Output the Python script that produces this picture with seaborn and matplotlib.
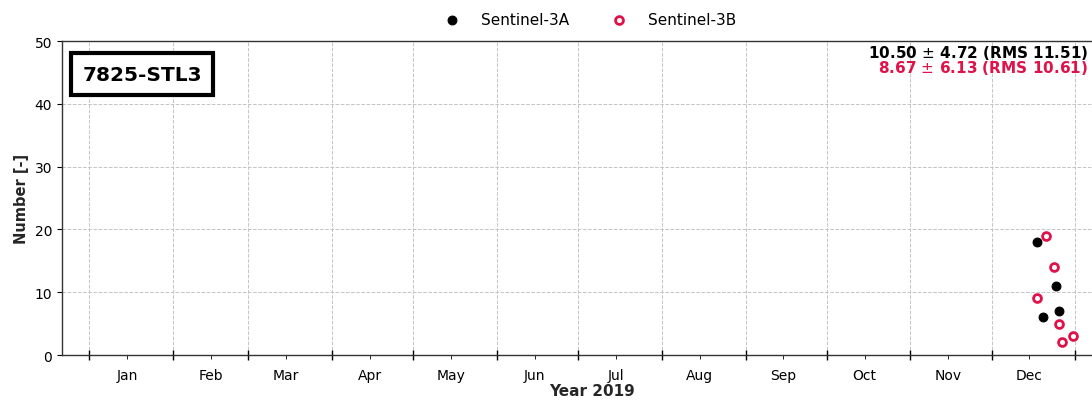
import seaborn as sns
import pandas as pd
import numpy as np
import matplotlib.pyplot as plt
import matplotlib.dates as mdates

# datos
fechas_3a = ["2019-12-18", "2019-12-20", "2019-12-25", "2019-12-26"]
valores_3a = [18, 6, 11, 7]
fechas_3b = ["2019-12-18", "2019-12-21", "2019-12-24", "2019-12-26", "2019-12-27", "2019-12-31"]
valores_3b = [9, 19, 14, 5, 2, 3]
meses = ["Jan", "Feb", "Mar", "Apr", "May", "Jun", "Jul", "Aug", "Sep", "Oct", "Nov", "Dec"]

s3a = pd.DataFrame({"fecha": pd.to_datetime(fechas_3a), "n": valores_3a})
s3b = pd.DataFrame({"fecha": pd.to_datetime(fechas_3b), "n": valores_3b})

rojo = "#e0124a"

sns.set_style("ticks")
plt.rcParams['font.family'] = ['DejaVu Sans']
plt.rcParams['text.color'] = 'black'
plt.rcParams['xtick.color'] = 'black'
plt.rcParams['ytick.color'] = 'black'

fig = plt.figure(figsize=(10.92, 4.02), dpi=100)
ax = fig.add_axes([0.0568, 0.1144, 0.97, 0.781])

sns.scatterplot(data=s3a, x="fecha", y="n", ax=ax, color="black", s=40,
                edgecolor="black", linewidth=0.8, label="Sentinel-3A", zorder=3)
sns.scatterplot(data=s3b, x="fecha", y="n", ax=ax, facecolor="white", s=32,
                edgecolor=rojo, linewidth=2, label="Sentinel-3B", zorder=3)

ax.set_xlim(pd.Timestamp("2018-12-22"), pd.Timestamp("2020-01-18"))
ax.set_ylim(0, 50)
ax.set_yticks([0, 10, 20, 30, 40, 50])

ax.xaxis.set_major_locator(mdates.MonthLocator())
ax.xaxis.set_major_formatter(plt.NullFormatter())
ax.set_xticks(pd.date_range("2019-01-01", periods=12, freq="MS") + pd.Timedelta(days=14), minor=True)
ax.set_xticklabels(meses, minor=True)
ax.tick_params(axis="x", which="major", length=7, direction="inout", width=1)
ax.tick_params(axis="x", which="minor", length=3, labelsize=10, pad=6)
ax.tick_params(axis="y", labelsize=10)

ax.grid(True, which="major", linestyle="--", color="#c4c4c4", linewidth=0.7)
for sp in ["left", "bottom", "top"]:
    ax.spines[sp].set_linewidth(1.0)
    ax.spines[sp].set_color("#333333")

ax.set_xlabel("Year 2019", fontweight="bold", fontsize=11, labelpad=1)
ax.set_ylabel("Number [-]", fontweight="bold", fontsize=10.5)

ax.legend(loc="lower center", bbox_to_anchor=(0.495, 1.0), ncol=2, frameon=False,
          fontsize=11, handletextpad=0.9, columnspacing=2.3)

ax.text(0.019, 0.895, "7825-STL3", transform=ax.transAxes, fontsize=14.5, fontweight="bold",
        ha="left", va="center",
        bbox=dict(boxstyle="square,pad=0.55", facecolor="white", edgecolor="black", linewidth=3))

def stats(v):
    v = np.array(v, dtype=float)
    return "%.2f $\\pm$ %.2f (RMS %.2f)" % (v.mean(), v.std(), np.sqrt((v ** 2).mean()))

ax.text(0.969, 0.995, stats(valores_3a), transform=ax.transAxes, ha="right", va="top",
        fontsize=11, fontweight="bold", color="black")
ax.text(0.969, 0.946, stats(valores_3b), transform=ax.transAxes, ha="right", va="top",
        fontsize=11, fontweight="bold", color=rojo)

fig.savefig("out.png", dpi=100)
